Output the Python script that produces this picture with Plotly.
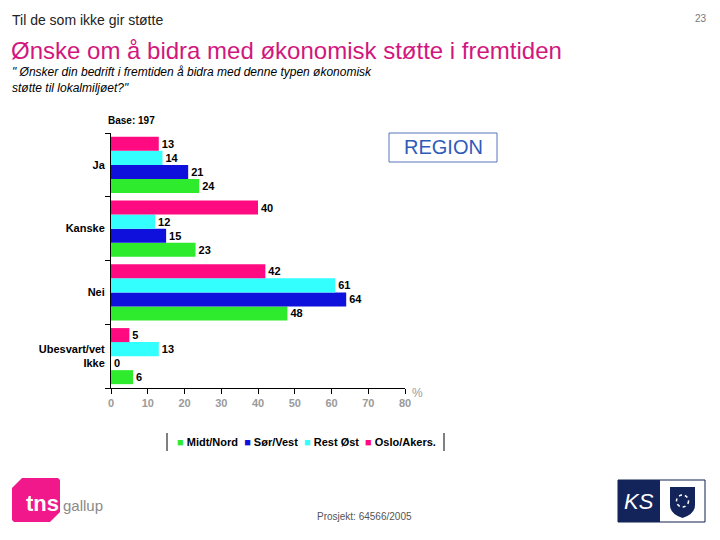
import plotly.graph_objects as go

# ---- data ----
categories = ["Ja", "Kanske", "Nei", "Ubesvart/vet<br>Ikke"]
series_names = ["Midt/Nord", "Sør/Vest", "Rest Øst", "Oslo/Akers."]
midt_nord = [24, 23, 48, 6]
sor_vest = [21, 15, 64, 0]
rest_ost = [14, 12, 61, 13]
oslo_akers = [13, 40, 42, 5]
x_ticks = [0, 10, 20, 30, 40, 50, 60, 70, 80]

colors = ["#2EEB2E", "#1010DC", "#33FFFF", "#FF0A80"]
values = [midt_nord, sor_vest, rest_ost, oslo_akers]

OFF = 8  # page body margin
W, H = 720 - OFF, 540 - OFF
def px(x):
    return (x - OFF) / W
def py(y):
    return 1 - (y - OFF) / H

FONT = "Liberation Sans, Arial, sans-serif"

fig = go.Figure()
for name, vals, col in zip(series_names, values, colors):
    fig.add_trace(go.Bar(
        y=categories, x=vals, name=name, orientation="h",
        marker=dict(color=col, line=dict(width=0)),
        text=[str(v) for v in vals], textposition="outside",
        textfont=dict(family=FONT, size=11, color="black", weight="bold"),
        constraintext="none", cliponaxis=False, showlegend=False,
    ))

fig.update_layout(
    width=W, height=H,
    margin=dict(l=0, r=0, t=0, b=0, autoexpand=False),
    paper_bgcolor="white", plot_bgcolor="white",
    barmode="group", bargap=0.12, bargroupgap=0,
    font=dict(family=FONT),
    xaxis=dict(
        domain=[px(111), px(405)], range=[0, 80], automargin=False,
        tickvals=x_ticks, ticktext=[str(t) for t in x_ticks],
        showgrid=False, zeroline=False,
        showline=True, linecolor="black", linewidth=1,
        ticks="outside", ticklen=5, tickcolor="black",
        tickfont=dict(family=FONT, size=11, color="#9A9A9A", weight="bold"),
    ),
    yaxis=dict(
        domain=[py(388), py(133)], type="category", automargin=False,
        categoryorder="array", categoryarray=categories[::-1],
        showgrid=False, zeroline=False,
        showline=True, linecolor="black", linewidth=1,
        ticks="outside", ticklen=5, tickcolor="black", tickson="boundaries",
        tickfont=dict(family=FONT, size=11, color="black", weight="bold"),
        ticklabelstandoff=3,
    ),
)

ann = []
def text(x, y, s, size, color="black", xanchor="left", yanchor="middle", align="left", **fkw):
    ann.append(dict(x=px(x), y=py(y), xref="paper", yref="paper", text=s,
                    showarrow=False, xanchor=xanchor, yanchor=yanchor, align=align,
                    font=dict(family=FONT, size=size, color=color, **fkw)))

text(10, 20, "Til de som ikke gir støtte", 14, "#222222")
text(709, 18, "23", 10, "#777777", xanchor="right")
text(9, 50, "Ønske om å bidra med økonomisk støtte i fremtiden", 24, "#D1177E")
text(10, 80, "\" Ønsker din bedrift i fremtiden å bidra med denne typen økonomisk<br>støtte til lokalmiljøet?\"",
     12, "black", style="italic")
text(106, 121, "Base: 197", 10, "black", weight="bold")
text(443, 147, "REGION", 20, "#2E5CB8", xanchor="center")
text(410, 393, "%", 12, "#9A9A9A")
text(364, 516, "Prosjekt: 64566/2005", 10, "#555555", xanchor="center")

# legend (compact, built from the series lists)
leg = "  ".join(f'<span style="color:{c}">■</span> {n}' for n, c in zip(series_names, colors))
text(306, 442, leg, 11, "black", xanchor="center", weight="bold")

# logos text
text(42, 503, "tns", 22, "white", xanchor="center", weight="bold")
text(61, 505, "gallup", 15, "#8A8A8A")
text(639, 501, "KS", 22, "white", xanchor="center", style="italic")

fig.update_layout(annotations=ann)

shapes = []
# REGION box
shapes.append(dict(type="rect", xref="paper", yref="paper", x0=px(389), x1=px(497),
                   y0=py(162), y1=py(133), line=dict(color="#5577BB", width=1)))
# legend side rules
for xx in (167, 444):
    shapes.append(dict(type="line", xref="paper", yref="paper", x0=px(xx), x1=px(xx),
                       y0=py(451), y1=py(433), line=dict(color="black", width=1)))
# tns gallup logo shape
path = (f"M {px(22)},{py(478)} L {px(58)},{py(478)} L {px(60)},{py(480)} "
        f"L {px(60)},{py(512)} L {px(50)},{py(522)} L {px(14)},{py(522)} L {px(12)},{py(520)} "
        f"L {px(12)},{py(488)} Z")
shapes.append(dict(type="path", xref="paper", yref="paper", path=path,
                   fillcolor="#F0188A", line=dict(width=0), layer="below"))
# KS logo
shapes.append(dict(type="rect", xref="paper", yref="paper", x0=px(618), x1=px(705),
                   y0=py(522), y1=py(480), line=dict(color="#102050", width=1),
                   fillcolor="white"))
shapes.append(dict(type="rect", xref="paper", yref="paper", x0=px(618), x1=px(660),
                   y0=py(522), y1=py(480), line=dict(width=0), fillcolor="#13245A"))
shield = (f"M {px(670)},{py(487)} L {px(695)},{py(487)} L {px(695)},{py(505)} "
          f"Q {px(695)},{py(514)} {px(682.5)},{py(518)} Q {px(670)},{py(514)} {px(670)},{py(505)} Z")
shapes.append(dict(type="path", xref="paper", yref="paper", path=shield,
                   fillcolor="#13245A", line=dict(width=0)))
shapes.append(dict(type="circle", xref="paper", yref="paper", x0=px(676.5), x1=px(688.5),
                   y0=py(507), y1=py(495), line=dict(color="white", width=1.5, dash="dot")))
fig.update_layout(shapes=shapes)

fig.write_html("out.html")
